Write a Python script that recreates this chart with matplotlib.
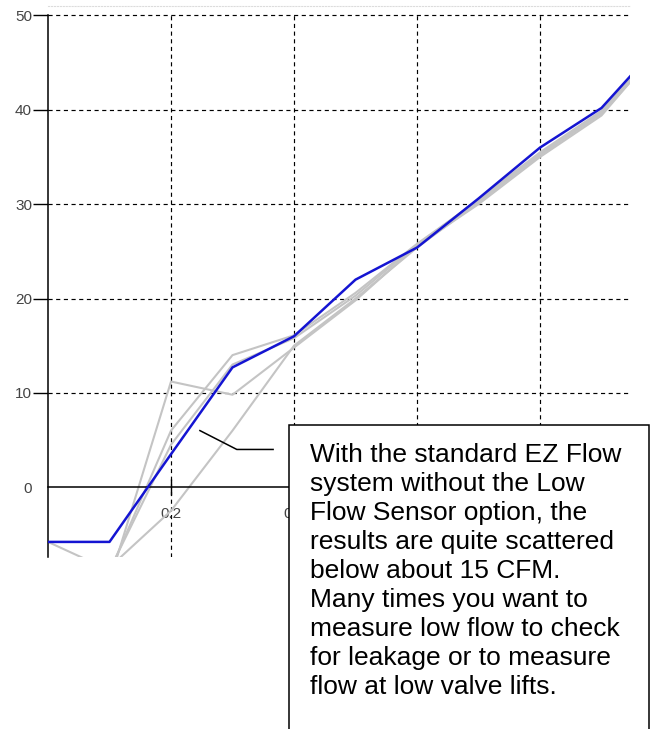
import numpy as np
import matplotlib.pyplot as plt
from matplotlib.patches import Rectangle

# valve lift (x) and flow readings (y)
lift = [0.0, 0.1, 0.2, 0.3, 0.4, 0.5, 0.6, 0.7, 0.8, 0.9, 1.0]
flow_low_sensor = [-5.8, -5.8, 3.5, 12.7, 16.0, 22.0, 25.4, 30.6, 36.0, 40.2, 47.4]
flow_run_a = [-11.0, -10.0, 11.2, 9.8, 14.8, 19.8, 25.6, 30.0, 35.0, 39.4, 47.0]
flow_run_b = [-10.0, -9.0, 6.0, 14.0, 16.1, 20.6, 25.8, 30.4, 35.3, 39.8, 47.2]
flow_run_c = [-10.5, -8.5, -2.5, 6.0, 15.0, 20.0, 25.4, 30.2, 35.2, 39.6, 46.8]
flow_run_d = [-5.8, -8.8, 4.5, 13.0, 15.8, 20.3, 25.7, 30.5, 35.5, 39.9, 47.1]

x_ticks = [0.2, 0.4, 0.6, 0.8]
x_labels = ['0.2', '0.4', '0.6', '0.8']
y_ticks = [0, 10, 20, 30, 40, 50]
y_labels = ['0', '10', '20', '30', '40', '50']

# leader line of the note (data coords)
leader_x = [0.247, 0.307, 0.366]
leader_y = [6.0, 4.0, 4.0]

note = ("With the standard EZ Flow\nsystem without the Low\n"
        "Flow Sensor option, the\nresults are quite scattered\n"
        "below about 15 CFM.\nMany times you want to\n"
        "measure low flow to check\nfor leakage or to measure\n"
        "flow at low valve lifts.")

plt.rcParams['font.family'] = ['Liberation Sans', 'DejaVu Sans']

fig = plt.figure(figsize=(6.55, 7.29), dpi=100)
ax = fig.add_axes([48 / 655, 1 - 557 / 729, (630 - 48) / 655, (557 - 5.5) / 729])
ymin, ymax = -7.4, 51.06
xmax = 0.9463
ax.set_xlim(0, xmax)
ax.set_ylim(ymin, ymax)

# dashed grid, stopping at the 50 line
dash = (0, (3.5, 3))
ax.vlines(x_ticks, ymin, 50, colors='black', linewidth=0.85, linestyles=[dash], zorder=1)
ax.hlines(y_ticks[1:], 0, xmax, colors='black', linewidth=0.85, linestyles=[dash], zorder=1)

# data lines
for run in [flow_run_a, flow_run_b, flow_run_c, flow_run_d]:
    ax.plot(lift, run, color='#c4c4c4', linewidth=1.5, zorder=2)
ax.plot(lift, flow_low_sensor, color='#1414d2', linewidth=1.8, zorder=3)

# axes look
ax.spines['right'].set_visible(False)
ax.spines['top'].set_color('#dcdcdc')
ax.spines['top'].set_linestyle(':')
ax.spines['left'].set_bounds(ymin, 50)
ax.spines['left'].set_linewidth(1.1)
ax.spines['bottom'].set_position(('data', 0))
ax.spines['bottom'].set_linewidth(1.1)

ax.set_yticks(y_ticks)
ax.set_yticklabels(y_labels)
ax.set_xticks(x_ticks)
ax.set_xticklabels(x_labels)
ax.tick_params(axis='y', direction='out', length=10.5, width=1.0, pad=1,
               labelsize=11, labelcolor='#444444')
ax.tick_params(axis='x', direction='inout', length=12, width=1.0, pad=8,
               labelsize=11, labelcolor='#444444')
ax.yaxis.get_major_ticks()[0].tick1line.set_visible(False)
# the labels under the note box are covered in the original
for lab in ax.get_xticklabels()[2:]:
    lab.set_visible(False)

ax.plot(leader_x, leader_y, color='black', linewidth=1.1, clip_on=False, zorder=4)

# note box, running off the bottom of the picture
box = Rectangle((289 / 655, -0.05), (649 - 289) / 655, 0.05 + 1 - 425 / 729,
                transform=fig.transFigure, facecolor='white', edgecolor='black',
                linewidth=1.1, zorder=5)
fig.add_artist(box)
fig.text(310 / 655, 1 - 443 / 729, note, fontsize=19, va='top', ha='left',
         linespacing=1.26, zorder=6)

fig.savefig('out.png', dpi=100)
